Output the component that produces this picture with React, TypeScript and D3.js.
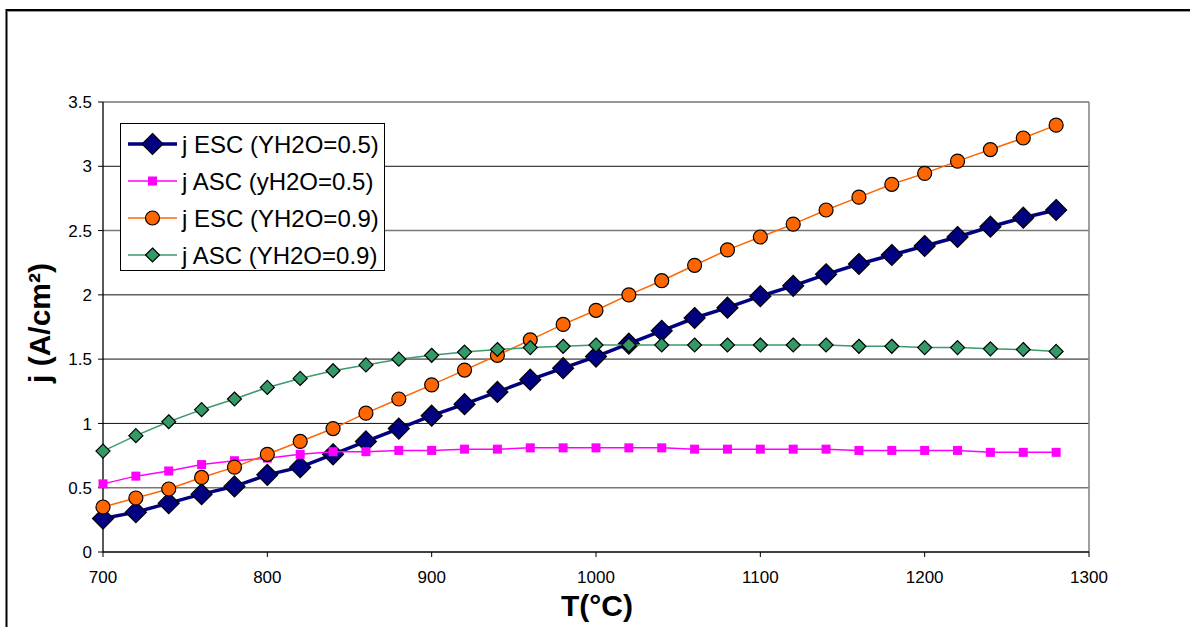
import React from "react";
import * as d3 from "d3";

const temps = [700, 720, 740, 760, 780, 800, 820, 840, 860, 880, 900, 920, 940, 960, 980, 1000, 1020, 1040, 1060, 1080, 1100, 1120, 1140, 1160, 1180, 1200, 1220, 1240, 1260, 1280];
const escY05 = [0.26, 0.31, 0.38, 0.45, 0.51, 0.6, 0.66, 0.76, 0.86, 0.96, 1.06, 1.15, 1.245, 1.34, 1.43, 1.52, 1.62, 1.72, 1.82, 1.9, 1.99, 2.07, 2.16, 2.24, 2.31, 2.38, 2.45, 2.53, 2.6, 2.66];
const ascY05 = [0.53, 0.59, 0.63, 0.68, 0.71, 0.73, 0.76, 0.78, 0.78, 0.79, 0.79, 0.8, 0.8, 0.81, 0.81, 0.81, 0.81, 0.81, 0.8, 0.8, 0.8, 0.8, 0.8, 0.79, 0.79, 0.79, 0.79, 0.775, 0.775, 0.775];
const escY09 = [0.35, 0.42, 0.49, 0.58, 0.66, 0.76, 0.86, 0.96, 1.08, 1.19, 1.3, 1.415, 1.53, 1.65, 1.77, 1.88, 2.0, 2.11, 2.23, 2.35, 2.45, 2.55, 2.66, 2.76, 2.86, 2.945, 3.04, 3.13, 3.22, 3.32];
const ascY09 = [0.785, 0.905, 1.013, 1.107, 1.19, 1.28, 1.35, 1.41, 1.455, 1.5, 1.53, 1.555, 1.575, 1.59, 1.6, 1.61, 1.61, 1.61, 1.61, 1.61, 1.61, 1.61, 1.61, 1.6, 1.6, 1.59, 1.59, 1.58, 1.575, 1.56];

const xTicks = [700, 800, 900, 1000, 1100, 1200, 1300];
const yTicks = [0, 0.5, 1, 1.5, 2, 2.5, 3, 3.5];
const yTickLabels = ["0", "0.5", "1", "1.5", "2", "2.5", "3", "3.5"];

const seriesNames = ["j ESC (YH2O=0.5)", "j ASC (yH2O=0.5)", "j ESC (YH2O=0.9)", "j ASC (YH2O=0.9)"];
const seriesValues = [escY05, ascY05, escY09, ascY09];

type Style = { line: string; fill: string; width: number; marker: "diamondL" | "square" | "circle" | "diamondS" };
const styles: Style[] = [
  { line: "#000080", fill: "#000080", width: 3.5, marker: "diamondL" },
  { line: "#FF00FF", fill: "#FF00FF", width: 1.5, marker: "square" },
  { line: "#FF6600", fill: "#FF6600", width: 1.5, marker: "circle" },
  { line: "#3C9A6C", fill: "#339966", width: 1.5, marker: "diamondS" },
];

const FONT = "'Liberation Sans', Arial, Helvetica, sans-serif";

function Marker({ x, y, s }: { x: number; y: number; s: Style }) {
  if (s.marker === "diamondL" || s.marker === "diamondS") {
    const h = s.marker === "diamondL" ? 10.5 : 7;
    return (
      <path
        d={`M${x},${y - h}L${x + h},${y}L${x},${y + h}L${x - h},${y}Z`}
        fill={s.fill}
        stroke="#000"
        strokeWidth={1.2}
      />
    );
  }
  if (s.marker === "square") {
    return <rect x={x - 4.5} y={y - 4.5} width={9} height={9} fill={s.fill} />;
  }
  return <circle cx={x} cy={y} r={7} fill={s.fill} stroke="#000" strokeWidth={1.2} />;
}

export default function App() {
  const W = 1190;
  const H = 627;
  const x = d3.scaleLinear().domain([700, 1300]).range([103, 1089]);
  const y = d3.scaleLinear().domain([0, 3.5]).range([552, 102]);
  const line = d3
    .line<number>()
    .x((_, i) => x(temps[i]))
    .y((d) => y(d));

  const legendRows = [144, 181, 218, 255];

  return (
    <svg
      width={W}
      height={H}
      style={{ position: "absolute", left: 0, top: 0, background: "#fff" }}
      fontFamily={FONT}
    >
      <rect x={0} y={0} width={W} height={H} fill="#fff" />
      {/* outer frame */}
      <line x1={6.5} y1={10} x2={W + 5} y2={10} stroke="#000" strokeWidth={2} />
      <line x1={6.5} y1={9} x2={6.5} y2={H + 5} stroke="#000" strokeWidth={2} />
      <line x1={8} y1={11.5} x2={W + 5} y2={11.5} stroke="#999" strokeWidth={1} />

      {/* gridlines */}
      {yTicks.slice(1).map((t, i) => (
        <line
          key={t}
          x1={x(700)}
          x2={x(1300)}
          y1={y(t)}
          y2={y(t)}
          stroke={i % 2 === 0 ? "#777" : "#111"}
          strokeWidth={i % 2 === 0 ? 1.6 : 1}
        />
      ))}
      {/* right border of plot */}
      <line x1={x(1300)} x2={x(1300)} y1={y(3.5)} y2={y(0)} stroke="#888" strokeWidth={1.6} />

      {/* axes */}
      <line x1={x(700)} x2={x(700)} y1={y(3.5)} y2={y(0)} stroke="#000" strokeWidth={1.3} />
      <line x1={x(700)} x2={x(1300)} y1={y(0)} y2={y(0)} stroke="#000" strokeWidth={1.3} />
      {yTicks.map((t, i) => (
        <g key={t}>
          <line x1={x(700) - 5} x2={x(700)} y1={y(t)} y2={y(t)} stroke="#000" strokeWidth={1} />
          <text x={x(700) - 11} y={y(t)} dy="0.36em" textAnchor="end" fontSize={17} fill="#000">
            {yTickLabels[i]}
          </text>
        </g>
      ))}
      {xTicks.map((t) => (
        <g key={t}>
          <line x1={x(t)} x2={x(t)} y1={y(0)} y2={y(0) + 5} stroke="#000" strokeWidth={1} />
          <text x={x(t)} y={583} textAnchor="middle" fontSize={17} fill="#000">
            {t}
          </text>
        </g>
      ))}

      {/* series */}
      {seriesValues.map((vals, si) => (
        <g key={si}>
          <path d={line(vals) || ""} fill="none" stroke={styles[si].line} strokeWidth={styles[si].width} />
          {vals.map((v, i) => (
            <Marker key={i} x={x(temps[i])} y={y(v)} s={styles[si]} />
          ))}
        </g>
      ))}

      {/* legend */}
      <rect x={120.5} y={123.5} width={264} height={147} fill="#fff" stroke="#000" strokeWidth={1} />
      {seriesNames.map((n, i) => (
        <g key={n}>
          <line x1={128} x2={177} y1={legendRows[i]} y2={legendRows[i]} stroke={styles[i].line} strokeWidth={styles[i].width} />
          <Marker x={152.5} y={legendRows[i]} s={styles[i]} />
          <text x={182} y={legendRows[i]} dy="0.36em" fontSize={24} fill="#000">
            {n}
          </text>
        </g>
      ))}

      {/* axis titles */}
      <text x={597} y={616} textAnchor="middle" fontSize={30} fontWeight="bold" fill="#000">
        T(°C)
      </text>
      <text
        transform={`translate(50,323) rotate(-90)`}
        textAnchor="middle"
        fontSize={30}
        fontWeight="bold"
        fill="#000"
      >
        j (A/cm²)
      </text>
    </svg>
  );
}
